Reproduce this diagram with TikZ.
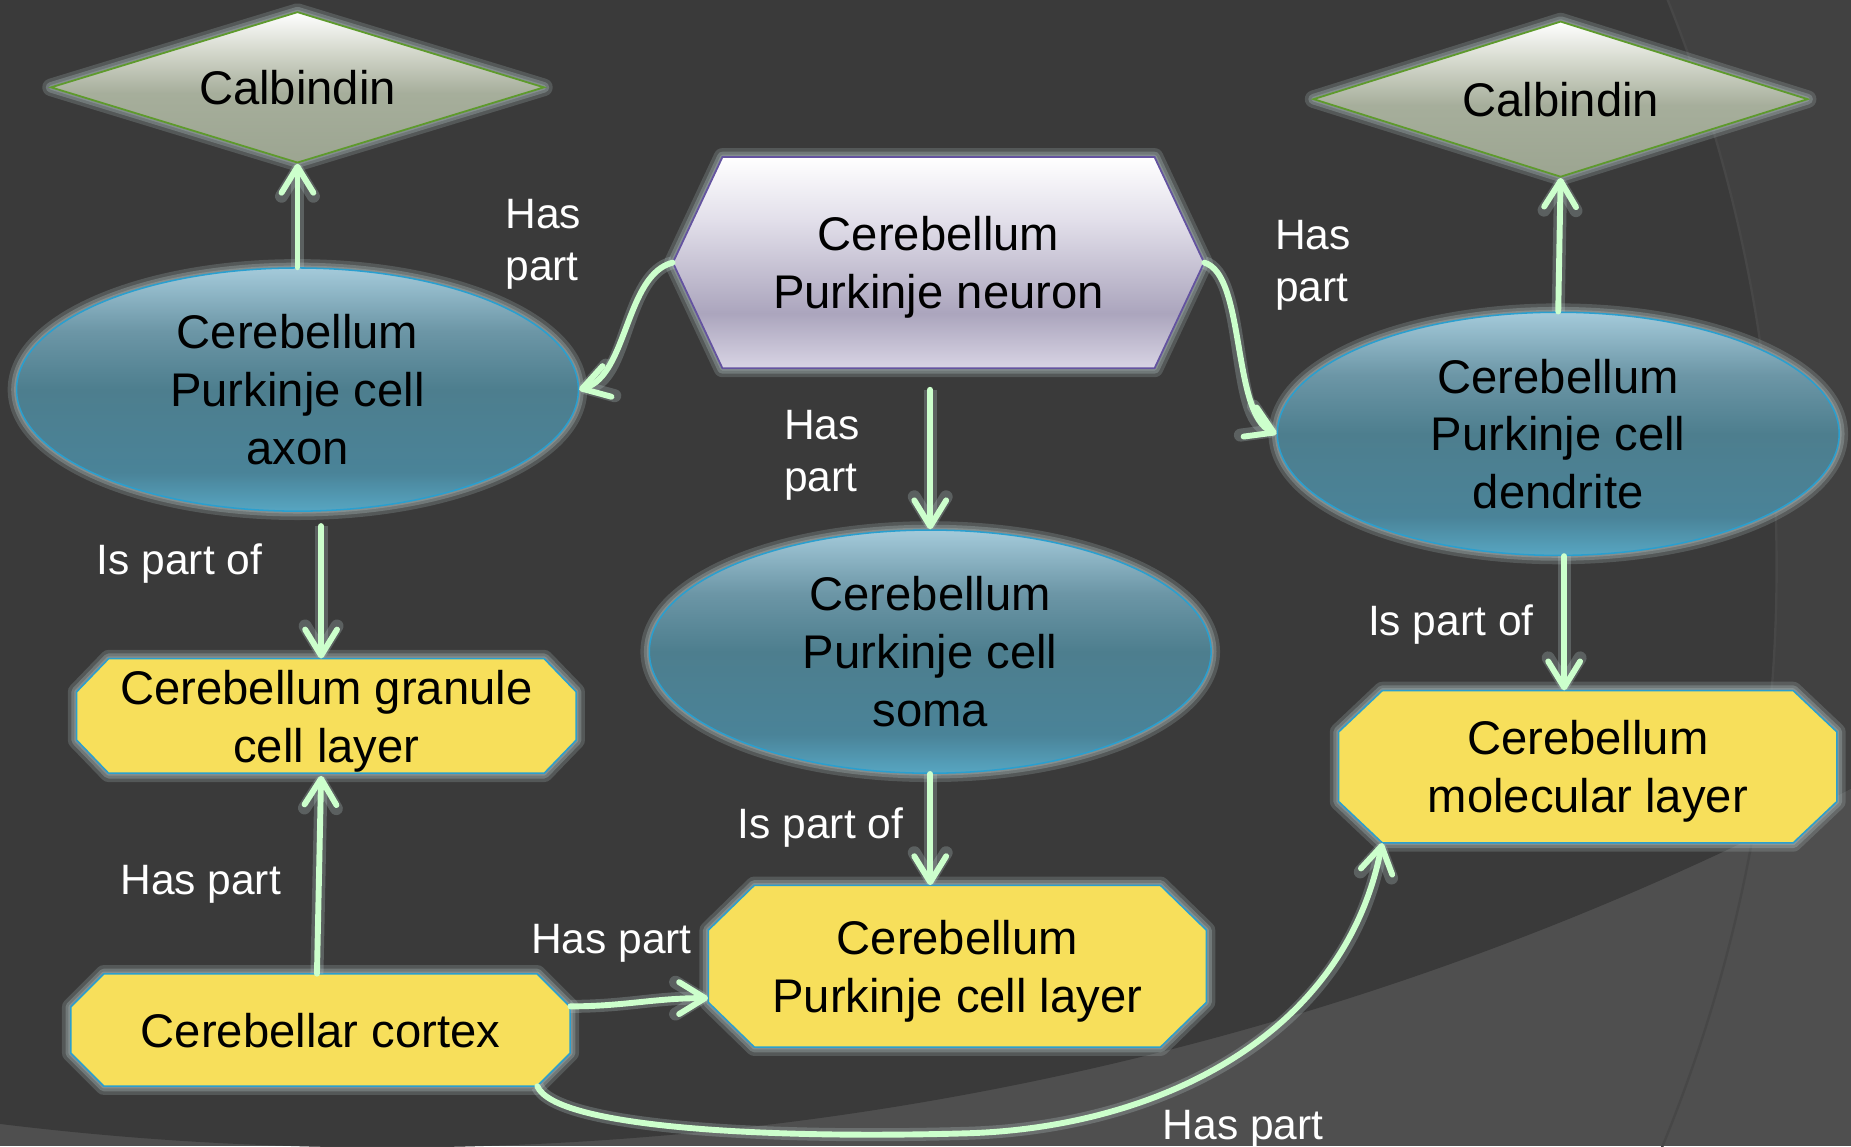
\documentclass[tikz,border=0pt]{standalone}
\usepackage{fontspec}
\setmainfont{Liberation Sans}
\usetikzlibrary{shapes.geometric,arrows.meta,calc}

\definecolor{bgdark}{HTML}{3A3A3A}
\definecolor{bgring}{HTML}{414141}
\definecolor{bglight}{HTML}{4F4F4F}
\definecolor{bgedge}{HTML}{474747}
\definecolor{arrowc}{HTML}{CCFFCC}
\definecolor{glowc}{HTML}{B4C4C4}
\definecolor{yellowc}{HTML}{F7DF5B}
\definecolor{bluebd}{HTML}{2A9FCF}
\definecolor{greenbd}{HTML}{5E9A2C}
\definecolor{purplebd}{HTML}{6453A0}
% ellipse shading
\definecolor{Ea}{HTML}{57A6C2}
\definecolor{Eb}{HTML}{4A8398}
\definecolor{Ec}{HTML}{4D7E8E}
\definecolor{Ed}{HTML}{6C96A6}
\definecolor{Ee}{HTML}{A4CADA}
% hexagon shading
\definecolor{Ha}{HTML}{D8D4E4}
\definecolor{Hb}{HTML}{ABA5BD}
\definecolor{Hc}{HTML}{E2DFEA}
% diamond shading
\definecolor{Da}{HTML}{9CA591}
\definecolor{Db}{HTML}{A6AE9B}
\definecolor{Dc}{HTML}{D4D8CC}

\pgfdeclareverticalshading{ellshade}{100bp}{color(0bp)=(Ea); color(25bp)=(Ea); color(33bp)=(Eb); color(50bp)=(Ec); color(62bp)=(Ed); color(75bp)=(Ee); color(100bp)=(Ee)}
\pgfdeclareverticalshading{hexshade}{100bp}{color(0bp)=(Ha); color(25bp)=(Ha); color(38bp)=(Hb); color(60bp)=(Hc); color(75bp)=(white); color(100bp)=(white)}
\pgfdeclareverticalshading{diashade}{100bp}{color(0bp)=(Da); color(25bp)=(Da); color(48bp)=(Db); color(62bp)=(Dc); color(75bp)=(white); color(100bp)=(white)}

\newcommand\mynodefont{\fontsize{40}{49}\selectfont}
\newcommand\mylabelfont{\fontsize{36}{44}\selectfont}
% #1 style, #2 cx, #3 cy, #4 half w, #5 half h, #6 chamfer x, #7 chamfer y
\newcommand\octshape[7]{%
  \path[#1] ({#2-#4+#6},{#3-#5}) -- ({#2+#4-#6},{#3-#5}) -- ({#2+#4},{#3-#5+#7})
    -- ({#2+#4},{#3+#5-#7}) -- ({#2+#4-#6},{#3+#5}) -- ({#2-#4+#6},{#3+#5})
    -- ({#2-#4},{#3+#5-#7}) -- ({#2-#4},{#3-#5+#7}) -- cycle;}

\tikzset{
  glow/.style={preaction={draw=glowc, line width=15pt, draw opacity=0.22, line join=round},
               preaction={draw=glowc, line width=9pt, draw opacity=0.3, line join=round},
               preaction={draw=glowc, line width=4pt, draw opacity=0.3, line join=round}},
  ell/.style={ellipse, shade, shading=ellshade, draw=bluebd, line width=1.3pt, glow,
              inner sep=0pt, minimum width=476pt, minimum height=206pt,
              text=black, font=\mynodefont, align=center, text depth=-8pt},
  dia/.style={diamond, shade, shading=diashade, draw=greenbd, line width=1.5pt, glow,
              inner sep=0pt, aspect=3.27, minimum width=418pt, minimum height=128pt,
              text=black, font=\mynodefont, text depth=-2pt},
  oct/.style={fill=yellowc, draw=bluebd, line width=1.3pt, glow},
  hex/.style={shade, shading=hexshade, draw=purplebd, line width=1.5pt, glow},
  txt/.style={rectangle, draw=none, inner sep=0pt, font=\mynodefont, align=center, text=black},
  lbl/.style={text=white, font=\mylabelfont, inner sep=0pt, align=left},
  conn/.style={draw=arrowc, line width=5pt, line cap=round,
               -{Straight Barb[length=22pt,width=27pt,round]},
               preaction={draw=glowc, draw opacity=0.28, line width=11pt, line join=round}}
}

\begin{document}
\begin{tikzpicture}[x=1pt,y=-1pt]
\useasboundingbox (0,0) rectangle (1568,971);
\clip (0,0) rectangle (1568,971);
% background
\fill[bglight] (0,0) rectangle (1568,971);
\fill[bgdark] (328,-1703) circle (2675);
\begin{scope}
  \clip (328,-1703) circle (2675);
  \fill[bgring, even odd rule] (0,0) rectangle (1568,971) (215,480) circle (1290);
\end{scope}
\draw[bgedge, line width=2pt] (215,480) circle (1290);

% shapes and nodes
\node[dia] (calL) at (252,74) {Calbindin};
\node[dia, minimum width=419pt, minimum height=132pt] (calR) at (1322,84) {Calbindin};

\path[hex] (570,222.5) -- (612,133) -- (978,133) -- (1020,222.5) -- (978,312) -- (612,312) -- cycle;
\node[txt, minimum width=450pt, minimum height=179pt, text depth=-11pt] (neuron) at (795,222.5) {Cerebellum\\Purkinje neuron};

\node[ell] (axon) at (252,330) {Cerebellum\\Purkinje cell\\axon};
\node[ell, text depth=-7pt] (soma) at (788,552) {Cerebellum\\Purkinje cell\\soma};
\node[ell] (dend) at (1320,367.5) {Cerebellum\\Purkinje cell\\dendrite};

\octshape{oct}{276.5}{606.5}{211.5}{48.5}{27}{28}
\node[txt, minimum width=423pt, minimum height=97pt, text depth=-3pt] (gran) at (276.5,606.5) {Cerebellum granule\\cell layer};
\octshape{oct}{271.5}{872.5}{211.5}{47.5}{28}{28}
\node[txt, minimum width=423pt, minimum height=95pt, text depth=-10pt] (cortex) at (271.5,872.5) {Cerebellar cortex};
\octshape{oct}{811}{818.5}{211}{68.5}{39}{38}
\node[txt, minimum width=422pt, minimum height=137pt, text depth=-7.5pt] (plc) at (811,818.5) {Cerebellum\\Purkinje cell layer};
\octshape{oct}{1345}{649.5}{211}{64.5}{37}{35}
\node[txt, minimum width=422pt, minimum height=129pt, text depth=-11pt] (mol) at (1345,649.5) {Cerebellum\\molecular layer};

% connectors
\draw[conn] (axon.north) -- (calL.south);
\draw[conn] (neuron.west) .. controls +(-40,10) and +(41,-12) .. (axon.east);
\draw[conn] (neuron.east) .. controls +(35,10) and +(-38,-17) .. (dend.west);
\draw[conn] (dend.north) -- (calR.south);
\draw[conn] ($(neuron.south -| soma.north)+(0,18)$) -- (soma.north);
\draw[conn] ($(axon.south)+(20,12)$) -- ($(gran.north)+(-4.5,0)$);
\draw[conn] (soma.south) -- (soma.south |- plc.north);
\coordinate (d1) at ($(dend.south)+(5,0)$);
\draw[conn] (d1) -- (d1 |- mol.north);
\draw[conn] ($(cortex.north)+(-3,0)$) -- ($(gran.south)+(-4.5,2)$);
\draw[conn] ($(cortex.east)+(0,-20)$) to[out=0,in=180] ($(plc.west)+(0,27)$);
\coordinate (bot) at (820,960);
\draw[conn] ($(cortex.south east)+(-28,0)$) .. controls +(15,35) and +(-170,5) .. (bot)
  .. controls +(160,-5) and +(-32,164) .. ($(mol.south west)+(37,0)$);

% labels
\node[lbl, anchor=west] (l1) at (428,207) {Has\\part};
\node[lbl, anchor=west] (l2) at (1080,225) {Has\\part};
\node[lbl, anchor=west] (l3) at (664,386) {Has\\part};
\node[lbl] (l4) at (152,477) {Is part of};
\node[lbl] (l5) at (695,701) {Is part of};
\node[lbl] (l6) at (1229,529) {Is part of};
\node[lbl] (l7) at (170,749) {Has part};
\node[lbl] (l8) at (518,799) {Has part};
\node[lbl] (l9) at (1053,957) {Has part};
\end{tikzpicture}
\end{document}
